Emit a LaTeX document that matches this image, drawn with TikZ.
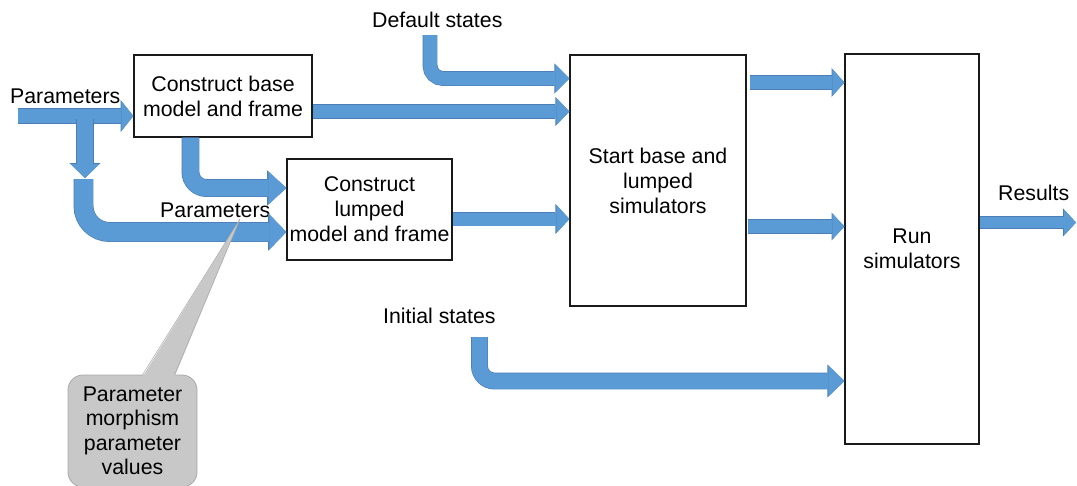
\documentclass[tikz,border=0pt]{standalone}
\usepackage{fontspec}
\setmainfont{Liberation Sans}
\usetikzlibrary{arrows.meta,calc}
\definecolor{flowblue}{HTML}{5B9BD5}
\definecolor{flowedge}{HTML}{4A7EB5}
\definecolor{notegray}{HTML}{C8C8C8}
\definecolor{noteedge}{HTML}{A8A8A8}
\definecolor{boxline}{HTML}{1A1A1A}
\begin{document}
\begin{tikzpicture}[x=1pt,y=-1pt,
  txt/.style={font=\fontsize{21.3pt}{25pt}\selectfont, inner sep=0pt, text=black},
  stage/.style={draw=boxline, line width=1.2pt, fill=white, inner sep=0pt,
    align=center, font=\fontsize{21.3pt}{25pt}\selectfont},
  % block arrow: shaft width, head width, head length
  blk/.style n args={3}{
    draw=flowblue, line width=#1pt,
    -{Triangle[length=#3pt,width=#2pt,line width=0pt]},
    preaction={draw=flowedge, line width=#1pt+1.4pt,
      -{Triangle[length=#3pt,width=#2pt,line width=0pt,scale=1.07]}}
  },
]
\useasboundingbox (0,0) rectangle (1077,485);

% process stages
\node[stage, minimum width=178pt, minimum height=82pt]  (A) at (223,96)     {Construct base\\model and frame};
\node[stage, minimum width=165pt, minimum height=101pt] (B) at (369.5,209.5) {Construct\\lumped\\model and frame};
\node[stage, minimum width=176pt, minimum height=251pt] (C) at (658,180.5)  {Start base and\\lumped\\simulators};
\node[stage, minimum width=134pt, minimum height=390pt] (D) at (912,249)    {Run\\simulators};

% labels on the flows
\node[txt, anchor=base west] (lp1)  at (10,103)  {Parameters};
\node[txt, anchor=base west] (lp2)  at (160,217) {Parameters};
\node[txt, anchor=base west] (lds)  at (372,27)  {Default states};
\node[txt, anchor=base west] (lis)  at (383,323) {Initial states};
\node[txt, anchor=base west] (lres) at (998,200) {Results};

% free ends of the flows
\coordinate (pin)   at (18,116);
\coordinate (drop0) at (85,119);
\coordinate (drop1) at (85,178);
\coordinate (loop0) at (83.5,179);
\coordinate (ds0)   at (430,35);
\coordinate (is0)   at (479.5,337);
\coordinate (out1)  at (1076,222.5);
\coordinate (ac0) at ($(A.east)+(0,15.5)$);
\coordinate (bc0) at ($(B.east)+(0,9.5)$);
\coordinate (cd0) at ($(C.east)+(3,-98)$);
\coordinate (cd1) at ($(C.east)+(1,46)$);

% flows
\draw[blk={14}{30}{12}] (pin) -- (pin -| A.west);
\draw[blk={16}{29}{14}] (drop0) -- (drop1);
\draw[blk={18.5}{35}{17}, rounded corners=26pt] (loop0) |- ($(B.west)+(0,22.5)$);
\draw[blk={16.5}{33}{18}, rounded corners=16pt] ($(A.south)+(-32.5,0)$) |- ($(B.west)+(0,-21.5)$);
\draw[blk={13}{27}{13}] (ac0) -- (ac0 -| C.west);
\draw[blk={13.5}{28}{14}, rounded corners=13pt] (ds0) |- ($(C.west)+(0,-102)$);
\draw[blk={13}{28}{13}] (bc0) -- (bc0 -| C.west);
\draw[blk={13}{27}{12}] (cd0) -- (cd0 -| D.west);
\draw[blk={13}{26}{12}] (cd1) -- (cd1 -| D.west);
\draw[blk={15.5}{31}{16}, rounded corners=15pt] (is0) |- ($(D.west)+(0,132)$);
\draw[blk={11.5}{26}{12}] (D.east |- out1) -- (out1);

% callout on the lumped-model parameters
\node[draw=noteedge, fill=notegray, line width=0.8pt, rounded corners=15pt,
  minimum width=129pt, minimum height=112pt, inner sep=0pt, align=center,
  font=\fontsize{21.3pt}{24.5pt}\selectfont] (note) at (132.5,431)
  {Parameter\\morphism\\parameter\\values};
\coordinate (ptip) at (240,219);
\fill[notegray] ($(note.north west)+(75,2)$) -- (ptip) -- ($(note.north west)+(107,2)$) -- cycle;
\draw[noteedge, line width=0.5pt] ($(note.north west)+(75,0)$) -- (ptip) -- ($(note.north west)+(107,0)$);
\end{tikzpicture}
\end{document}
